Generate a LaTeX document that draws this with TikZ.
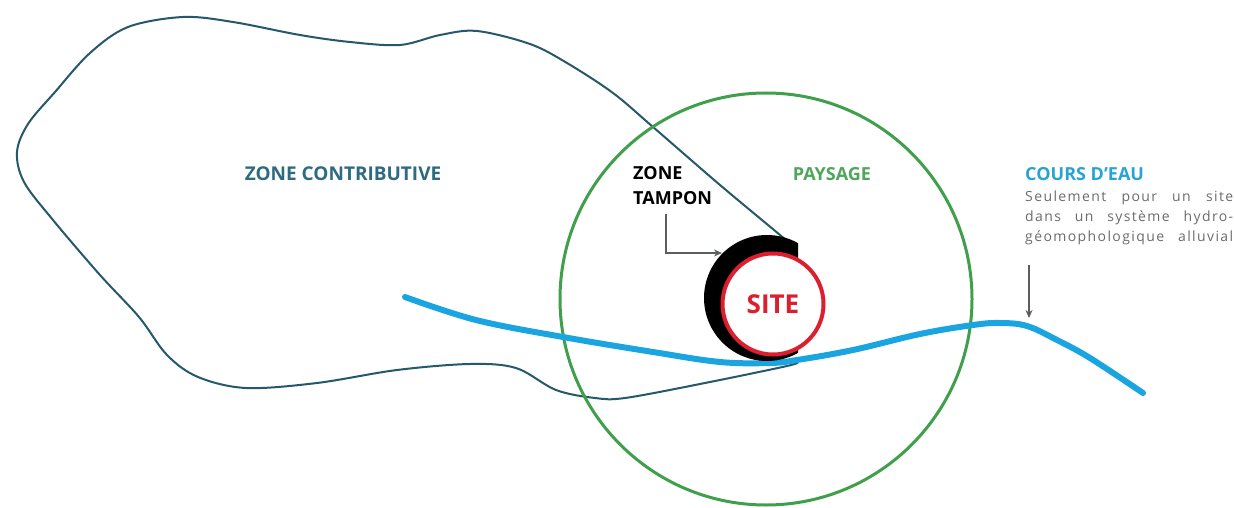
\documentclass[tikz,border=0pt]{standalone}
\usepackage{fontspec}
\setmainfont{Open Sans}
\usetikzlibrary{arrows.meta}
\definecolor{contour}{HTML}{25586A}
\definecolor{contourtxt}{HTML}{2F6B80}
\definecolor{paysage}{HTML}{3F9F4B}
\definecolor{paysagetxt}{HTML}{4FA55A}
\definecolor{riviere}{HTML}{1BA5E0}
\definecolor{rivieretxt}{HTML}{27A3D6}
\definecolor{siterouge}{HTML}{DC1F2E}
\definecolor{grisnote}{HTML}{6B6B6B}
\definecolor{fleche}{HTML}{5A5F5C}
\tikzset{
  lbl/.style={font=\fontsize{18}{25}\selectfont\bfseries, inner sep=0pt},
  note/.style={font=\fontsize{14}{20}\selectfont\addfontfeatures{LetterSpace=10}, text=grisnote, inner sep=0pt, align=left},
  pointer/.style={draw=fleche, line width=1.4pt, -{Stealth[length=8pt,width=7pt]}},
}
\begin{document}
\begin{tikzpicture}[x=1pt,y=-1pt]
\useasboundingbox (0,0) rectangle (1234,508);
% contributing zone outline
\draw[contour, line width=2pt, line join=round] plot[smooth, tension=0.55] coordinates {
 (796,249) (780,235) (720,185) (653,127) (613,93) (567,63) (530,44)
 (477,31) (440,35) (400,45) (350,42) (300,35) (233,22) (183,17)
 (128,27) (90,53) (55,92) (28,124) (17,152) (24,182) (53,220)
 (100,275) (139,317) (167,355) (198,377)
 (246,388) (317,383) (397,370) (470,364) (516,368) (556,390) (595,398)
 (625,398) (700,384) (787,366) (797,362)};
% landscape circle
\node[circle, draw=paysage, line width=3pt, minimum size=412pt, inner sep=0pt] (paysage) at (766,299) {};
% river
\draw[riviere, line width=6pt, line cap=round] plot[smooth, tension=0.6] coordinates {
 (405,297) (476,320) (563,337) (653,352) (720,362) (770,363) (797,360)
 (853,350) (920,334) (973,325) (1000,323) (1027,326) (1057,340) (1090,358) (1143,393)};
% buffer zone (crescent)
\begin{scope}
  \clip (600,200) rectangle (798,400);
  \fill[black] (767,298) circle[radius=63pt];
\end{scope}
% site
\node[circle, draw=siterouge, line width=4pt, fill=white, minimum size=101pt, inner sep=0pt,
      text=siterouge, font=\fontsize{26}{28}\selectfont\bfseries] (site) at (773,304) {SITE};
% labels
\node[lbl, text=contourtxt, font=\fontsize{19}{22}\selectfont\bfseries] (zc) at (343,174) {ZONE CONTRIBUTIVE};
\node[lbl, text=paysagetxt] (pays) at (832,174) {PAYSAGE};
\node[lbl, text=black, align=left, anchor=north west] (tamponlbl) at (633,166) {ZONE\\TAMPON};
\node[lbl, text=rivieretxt, anchor=west] (cours) at (1025,174) {COURS D'EAU};
\node[note, anchor=north west] (remarque) at (1025,191) {\makebox[208pt][s]{Seulement pour un site}\\\makebox[208pt][s]{dans un système hydro-}\\\makebox[208pt][s]{géomophologique alluvial}};
% pointers
\coordinate (tA) at (666,214);
\coordinate (tB) at (722,253);
\draw[pointer] (tA) |- (tB);
\coordinate (cA) at (1029,265);
\coordinate (cB) at (1029,318);
\draw[pointer] (cA) -- (cB);
\end{tikzpicture}
\end{document}
